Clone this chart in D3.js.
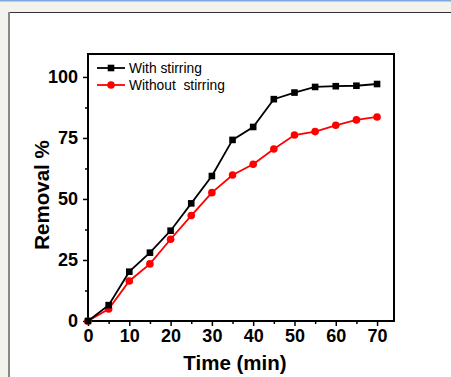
<!DOCTYPE html>
<html>
<head>
<meta charset="utf-8">
<script src="https://cdn.jsdelivr.net/npm/d3@7"></script>
<style>
  html, body { margin: 0; padding: 0; background: #f3f3ee; }
  svg { display: block; }
</style>
</head>
<body>
<svg id="chart" width="451" height="377"></svg>
<script>
const svg = d3.select("#chart");

// data
const times = [0, 5, 10, 15, 20, 25, 30, 35, 40, 45, 50, 55, 60, 65, 70];
const withStirring = [0, 6.5, 20.2, 28, 37, 48.2, 59.4, 74.2, 79.5, 90.9, 93.6, 95.9, 96.2, 96.4, 97.1];
const withoutStirring = [0, 4.9, 16.4, 23.4, 33.5, 43.2, 52.6, 59.8, 64.2, 70.5, 76.2, 77.6, 80.2, 82.4, 83.6];
const xTicks = [0, 10, 20, 30, 40, 50, 60, 70];
const yTicks = [0, 25, 50, 75, 100];
const seriesNames = ["With stirring", "Without  stirring"];

const plotLeft = 88, plotRight = 394, plotTop = 54, plotBottom = 321;
const font = "Arial, 'Liberation Sans', sans-serif";

// page frame
svg.append("rect").attr("x", 0).attr("y", 0).attr("width", 451).attr("height", 1.5).attr("fill", "#7fa8e0");
svg.append("rect").attr("x", 8).attr("y", 12).attr("width", 460).attr("height", 400).attr("fill", "#fff");
svg.append("line").attr("x1", 8).attr("x2", 451).attr("y1", 12.5).attr("y2", 12.5).attr("stroke", "#333").attr("stroke-width", 1.2);
svg.append("line").attr("x1", 9).attr("x2", 9).attr("y1", 12).attr("y2", 377).attr("stroke", "#888").attr("stroke-width", 2);

const x = d3.scaleLinear().domain([0, 74.1]).range([plotLeft, plotRight]);
const y = d3.scaleLinear().domain([0, 109.4]).range([plotBottom, plotTop]);

// minor ticks
const xMinor = d3.range(5, 75, 10);
const yMinor = d3.range(12.5, 109, 25);

const gx = svg.append("g").attr("transform", `translate(0,${plotBottom})`);
gx.call(d3.axisBottom(x).tickValues(xTicks).tickSize(5).tickPadding(3).tickFormat(d3.format("d")));
gx.append("g").call(d3.axisBottom(x).tickValues(xMinor).tickSize(3).tickFormat(""));

const gy = svg.append("g").attr("transform", `translate(${plotLeft},0)`);
gy.call(d3.axisLeft(y).tickValues(yTicks).tickSize(5).tickPadding(5).tickFormat(d3.format("d")));
gy.append("g").call(d3.axisLeft(y).tickValues(yMinor).tickSize(3).tickFormat(""));

svg.selectAll(".domain").remove();
svg.selectAll(".tick line").attr("stroke", "#000").attr("stroke-width", 1.5);
svg.selectAll(".tick text")
  .attr("fill", "#000")
  .style("font-family", font)
  .style("font-size", "18px")
  .style("font-weight", "bold");

// plot frame
svg.append("rect")
  .attr("x", plotLeft).attr("y", plotTop)
  .attr("width", plotRight - plotLeft).attr("height", plotBottom - plotTop)
  .attr("fill", "none").attr("stroke", "#000").attr("stroke-width", 2);

// lines
const series = [
  { name: seriesNames[0], values: withStirring, color: "#000", shape: "square" },
  { name: seriesNames[1], values: withoutStirring, color: "#ff0000", shape: "circle" }
];

const line = d3.line().x((d, i) => x(times[i])).y(d => y(d));

function drawMarkers(s, pts) {
  if (s.shape === "square") {
    svg.append("g").selectAll("rect").data(pts).join("rect")
      .attr("x", d => d[0] - 3.3).attr("y", d => d[1] - 3.3)
      .attr("width", 6.6).attr("height", 6.6)
      .attr("fill", s.color);
  } else {
    svg.append("g").selectAll("circle").data(pts).join("circle")
      .attr("cx", d => d[0]).attr("cy", d => d[1]).attr("r", 3.8)
      .attr("fill", s.color);
  }
}

series.slice().reverse().forEach(s => {
  svg.append("path")
    .datum(s.values)
    .attr("d", line)
    .attr("fill", "none")
    .attr("stroke", s.color)
    .attr("stroke-width", 1.8);
  drawMarkers(s, s.values.map((v, i) => [x(times[i]), y(v)]));
});

// legend
series.forEach((s, i) => {
  const ly = 68 + i * 17;
  svg.append("line").attr("x1", 97).attr("x2", 125).attr("y1", ly).attr("y2", ly)
    .attr("stroke", s.color).attr("stroke-width", 1.8);
  drawMarkers(s, [[111, ly]]);
  svg.append("text").attr("x", 129).attr("y", ly + 5)
    .attr("fill", "#000")
    .style("font-family", font).style("font-size", "13.8px")
    .style("white-space", "pre")
    .text(s.name);
});

// axis titles
svg.append("text")
  .attr("x", 235).attr("y", 370)
  .attr("text-anchor", "middle")
  .style("font-family", font).style("font-size", "20.5px").style("font-weight", "bold")
  .text("Time (min)");

svg.append("text")
  .attr("transform", "translate(49,195) rotate(-90)")
  .attr("text-anchor", "middle")
  .style("font-family", font).style("font-size", "20.5px").style("font-weight", "bold")
  .text("Removal %");
</script>
</body>
</html>
